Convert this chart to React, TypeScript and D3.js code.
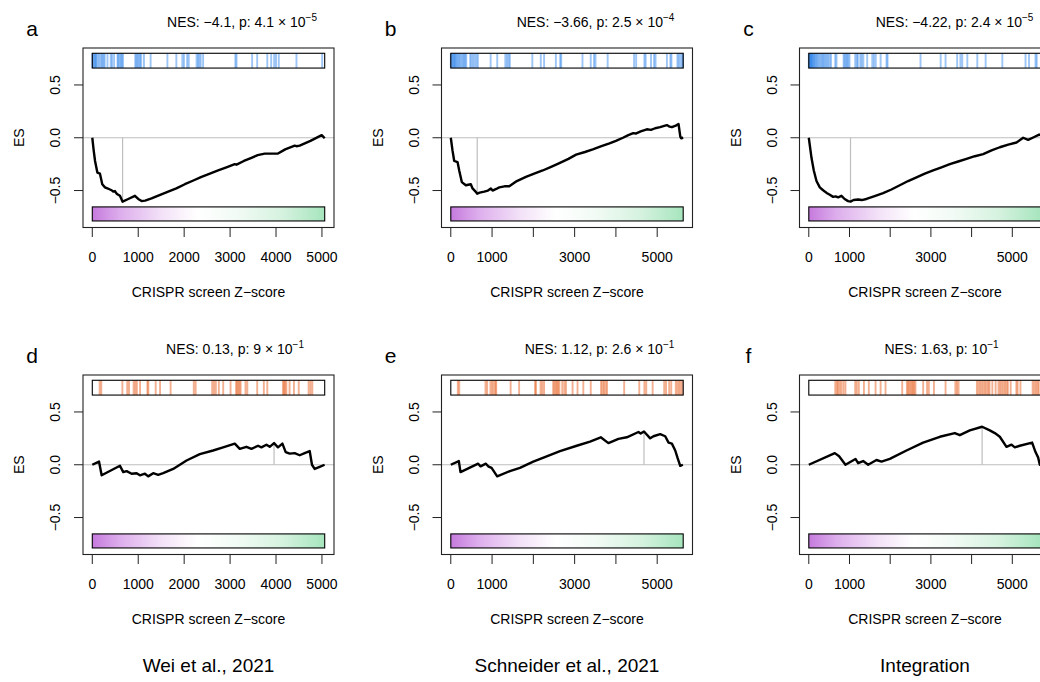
import React from 'react';
import * as d3 from 'd3';

type Pt = [number, number];

// ---- data -------------------------------------------------------------
const panelLetters = ['a', 'b', 'c', 'd', 'e', 'f'];
const nesValues = ['−4.1', '−3.66', '−4.22', '0.13', '1.12', '1.63'];
const pMantissa: (string | null)[] = ['4.1', '2.5', '2.4', '9', '2.6', null];
const pExponent = ['−5', '−4', '−5', '−1', '−1', '−1'];
const geneCounts = [5060, 5630, 5710, 5060, 5630, 5710];
const columnTitles = ['Wei et al., 2021', 'Schneider et al., 2021', 'Integration'];
const xAxisTitle = 'CRISPR screen Z−score';
const yAxisTitle = 'ES';
const yTicks = [-0.5, 0, 0.5];
const xTicksA = [0, 1000, 2000, 3000, 4000, 5000];
const xLabelsA = [0, 1000, 2000, 3000, 4000, 5000];
const xTicksB = [0, 1000, 2000, 3000, 4000, 5000];
const xLabelsB = [0, 1000, 3000, 5000];

// running enrichment score: [rank, ES]
const esA: Pt[] = [
  [0, 0], [30, -0.12], [60, -0.22], [110, -0.33], [167, -0.34], [217, -0.44], [276, -0.47],
  [330, -0.48], [385, -0.49], [430, -0.5], [457, -0.51], [493, -0.505], [530, -0.53],
  [565, -0.54], [602, -0.55], [660, -0.605], [783, -0.58], [928, -0.55], [1000, -0.58],
  [1073, -0.6], [1150, -0.595], [1290, -0.575], [1450, -0.545], [1652, -0.51], [1830, -0.48],
  [2015, -0.44], [2200, -0.405], [2378, -0.37], [2560, -0.34], [2740, -0.31], [2920, -0.28],
  [3102, -0.25], [3140, -0.255], [3300, -0.22], [3465, -0.19], [3600, -0.165], [3754, -0.15],
  [3900, -0.15], [4043, -0.15], [4200, -0.11], [4407, -0.075], [4445, -0.08], [4515, -0.075],
  [4750, -0.03], [4995, 0.025], [5060, -0.005],
];
const esB: Pt[] = [
  [0, 0], [41, -0.12], [83, -0.22], [163, -0.23], [204, -0.31], [267, -0.42], [364, -0.45],
  [485, -0.44], [527, -0.48], [600, -0.51], [640, -0.53], [700, -0.52], [810, -0.51],
  [900, -0.5], [971, -0.48], [1012, -0.5], [1100, -0.485], [1175, -0.47], [1300, -0.46],
  [1417, -0.46], [1600, -0.41], [1820, -0.37], [2020, -0.34], [2226, -0.31], [2430, -0.275],
  [2631, -0.24], [2850, -0.2], [3035, -0.16], [3250, -0.135], [3440, -0.11], [3650, -0.08],
  [3844, -0.054], [4000, -0.03], [4170, 0], [4300, 0.025], [4420, 0.044], [4480, 0.04],
  [4600, 0.06], [4750, 0.08], [4850, 0.075], [4950, 0.09], [5070, 0.1], [5150, 0.11],
  [5235, 0.12], [5300, 0.105], [5356, 0.1], [5450, 0.115], [5517, 0.13], [5560, 0.01],
  [5580, -0.005], [5630, 0],
];
const esC: Pt[] = [
  [0, 0], [66, -0.19], [123, -0.31], [189, -0.41], [270, -0.47], [330, -0.49], [393, -0.51],
  [450, -0.525], [516, -0.54], [598, -0.56], [660, -0.555], [721, -0.565], [803, -0.55],
  [880, -0.58], [966, -0.6], [1025, -0.605], [1100, -0.59], [1212, -0.585], [1300, -0.59],
  [1417, -0.58], [1600, -0.555], [1826, -0.525], [2030, -0.49], [2236, -0.45], [2440, -0.41],
  [2646, -0.375], [2850, -0.34], [3055, -0.31], [3260, -0.28], [3465, -0.25], [3670, -0.225],
  [3875, -0.2], [4080, -0.175], [4284, -0.155], [4490, -0.12], [4693, -0.09], [4900, -0.065],
  [5103, -0.045], [5266, 0], [5389, -0.02], [5500, 0], [5660, 0.03], [5710, 0.02],
];
const esD: Pt[] = [
  [0, 0], [146, 0.03], [204, -0.1], [602, -0.01], [674, -0.07], [747, -0.06], [856, -0.085],
  [965, -0.08], [1037, -0.1], [1146, -0.085], [1217, -0.11], [1326, -0.08], [1435, -0.095],
  [1543, -0.08], [1761, -0.04], [2052, 0.04], [2341, 0.1], [2630, 0.135], [2848, 0.165],
  [3102, 0.2], [3211, 0.15], [3356, 0.17], [3465, 0.15], [3609, 0.18], [3682, 0.165],
  [3791, 0.19], [3863, 0.17], [3957, 0.205], [4043, 0.165], [4139, 0.2], [4211, 0.12],
  [4298, 0.105], [4407, 0.11], [4515, 0.09], [4624, 0.11], [4733, 0.13], [4783, 0],
  [4841, -0.04], [4950, -0.02], [5058, 0],
];
const esE: Pt[] = [
  [0, 0], [194, 0.035], [235, -0.07], [663, 0.01], [721, -0.015], [850, 0.01], [906, -0.015],
  [988, -0.03], [1124, -0.11], [1432, -0.06], [1675, -0.03], [1998, 0.03], [2323, 0.08],
  [2646, 0.13], [3051, 0.18], [3374, 0.22], [3633, 0.26], [3818, 0.205], [4061, 0.245],
  [4264, 0.26], [4546, 0.31], [4600, 0.295], [4680, 0.315], [4830, 0.25], [4910, 0.27],
  [5073, 0.29], [5194, 0.27], [5275, 0.21], [5356, 0.2], [5437, 0.135], [5493, 0.065],
  [5558, -0.01], [5623, 0],
];
const esF: Pt[] = [
  [0, 0], [639, 0.11], [745, 0.08], [901, 0], [1147, 0.055], [1212, 0.015], [1335, 0.035],
  [1458, 0], [1663, 0.045], [1786, 0.03], [1991, 0.055], [2400, 0.135], [2809, 0.21],
  [3219, 0.265], [3587, 0.3], [3710, 0.28], [3956, 0.325], [4258, 0.36], [4447, 0.325],
  [4570, 0.3], [4693, 0.265], [4857, 0.17], [4980, 0.19], [5061, 0.165], [5184, 0.18],
  [5487, 0.21], [5570, 0.12], [5634, 0.07], [5676, 0], [5710, 0],
];

// ranks of gene-set members along the ordered list
const hitsA = [
  0, 20, 40, 60, 80, 95, 130, 160, 195, 220, 245, 270, 330, 400, 430, 475, 550, 565, 595, 620,
  645, 670, 935, 960, 985, 1010, 1040, 1065, 1125, 1270, 1635, 1830, 1960, 1995, 2065, 2100,
  2270, 2300, 2330, 2360, 2413, 3115, 3140, 3480, 3590, 3810, 3895, 3960, 4000, 4060, 4445, 5005,
];
const hitsB = [
  0, 20, 40, 60, 80, 100, 120, 145, 170, 200, 230, 260, 290, 320, 350, 375, 470, 500, 540, 580,
  620, 655, 965, 1125, 1320, 1360, 1400, 1430, 1975, 2180, 2260, 2545, 2650, 2675, 3190, 3390,
  3470, 3505, 3800, 4440, 4490, 4690, 4720, 4850, 4925, 4960, 5235, 5320, 5345, 5490, 5520,
  5560, 5600, 5625,
];
const hitsC = [
  0, 15, 30, 45, 60, 75, 90, 110, 130, 150, 175, 200, 230, 260, 290, 320, 350, 380, 410, 440,
  475, 510, 545, 650, 680, 855, 880, 910, 940, 970, 1000, 1140, 1180, 1205, 1265, 1300, 1340,
  1435, 1560, 1600, 1645, 1765, 1910, 1935, 2745, 3240, 3360, 3645, 3725, 3770, 3895, 4140,
  4345, 4755, 5325, 5410, 5570, 5600,
];
const hitsD = [
  160, 195, 655, 760, 800, 900, 935, 970, 1040, 1200, 1220, 1380, 1475, 1705, 2210, 2250, 2610,
  2650, 2690, 2755, 2850, 3010, 3130, 3155, 3180, 3205, 3230, 3335, 3375, 3590, 3735, 3810,
  4150, 4175, 4200, 4225, 4295, 4390, 4495, 4710, 4750, 4790,
];
const hitsE = [
  170, 205, 840, 880, 960, 1000, 1040, 1080, 1100, 1450, 1655, 2040, 2065, 2175, 2215, 2260,
  2480, 2510, 2540, 2570, 2600, 2630, 2700, 2750, 2790, 2950, 3070, 3210, 3390, 3640, 3675,
  3710, 3750, 3785, 4200, 4565, 4690, 4735, 4890, 5170, 5215, 5290, 5340, 5450, 5490, 5530,
  5570, 5610,
];
const hitsF = [
  650, 690, 720, 760, 800, 850, 900, 1140, 1180, 1230, 1355, 1475, 1640, 1765, 1885, 2295,
  2410, 2440, 2470, 2500, 2530, 2560, 2590, 2620, 2810, 2905, 2950, 3075, 3360, 3600, 3640,
  3680, 4130, 4170, 4210, 4250, 4290, 4330, 4370, 4410, 4440, 4510, 4590, 4660, 4700, 4740,
  4780, 4820, 4860, 4890, 4960, 5100, 5130, 5200, 5500, 5540, 5580, 5620, 5650,
];

const esSeries = [esA, esB, esC, esD, esE, esF];
const hitSeries = [hitsA, hitsB, hitsC, hitsD, hitsE, hitsF];

// ---- layout & style -----------------------------------------------------
const FONT = '"Liberation Sans", Arial, Helvetica, sans-serif';
const COL_LEFT = [83, 441.5, 799.5];
const ROW_TOP = [48, 375];
const BOX_W = 251;
const BOX_H = 179.5;
const TITLE_DX = [159, 154, 155, 152, 158, 142];
const HIT_COLORS = ['#0A6EE6', '#E4500C'];
const HIT_OPACITY = [0.4, 0.45];

function Panel({ idx }: { idx: number }) {
  const col = idx % 3;
  const row = Math.floor(idx / 3);
  const left = COL_LEFT[col];
  const top = ROW_TOP[row];
  const right = left + BOX_W;
  const bottom = top + BOX_H;
  const n = geneCounts[idx];
  const es = esSeries[idx];
  const hits = hitSeries[idx];

  const x = d3.scaleLinear().domain([-0.04 * n, 1.04 * n]).range([left, right]);
  const y = d3.scaleLinear().domain([-0.85, 0.85]).range([bottom, top]);
  const line = d3.line<Pt>().x((d) => x(d[0])).y((d) => y(d[1]));

  const extreme = es[d3.maxIndex(es, (d) => Math.abs(d[1]))];
  const xTicks = col === 0 ? xTicksA : xTicksB;
  const xLabels = col === 0 ? xLabelsA : xLabelsB;
  const hitColor = HIT_COLORS[row];
  const stripeTop = y(0.8);
  const stripeBot = y(0.66);
  const barTop = y(-0.655);
  const barBot = y(-0.788);
  const gradId = `rank-gradient-${idx}`;

  return (
    <g>
      <defs>
        <linearGradient id={gradId} x1="0" x2="1" y1="0" y2="0">
          <stop offset="0%" stopColor="#C57ADD" />
          <stop offset="12%" stopColor="#DDAEEC" />
          <stop offset="30%" stopColor="#F3E2F8" />
          <stop offset="45%" stopColor="#FFFFFF" />
          <stop offset="62%" stopColor="#F2FBF5" />
          <stop offset="82%" stopColor="#D5F2DF" />
          <stop offset="100%" stopColor="#A6E5BD" />
        </linearGradient>
      </defs>

      {/* panel letter and statistics */}
      <text x={left - 51} y={top - 12.5} fontSize={21} textAnchor="middle" fontFamily={FONT}>
        {panelLetters[idx]}
      </text>
      <text x={left + TITLE_DX[idx]} y={top - 21.5} fontSize={14} textAnchor="middle" fontFamily={FONT}>
        {`NES: ${nesValues[idx]}, p: `}
        {pMantissa[idx] !== null ? `${pMantissa[idx]} × 10` : '10'}
        <tspan dy={-6} fontSize={10}>{pExponent[idx]}</tspan>
      </text>

      {/* zero line and extreme marker */}
      <line x1={left} x2={right} y1={y(0)} y2={y(0)} stroke="#bebebe" strokeWidth={1.2} />
      <line x1={x(extreme[0])} x2={x(extreme[0])} y1={y(0)} y2={y(extreme[1])} stroke="#bebebe" strokeWidth={1.2} />

      {/* gene set membership stripe */}
      {hits.map((h, i) => (
        <line key={i} x1={x(h)} x2={x(h)} y1={stripeTop} y2={stripeBot}
          stroke={hitColor} strokeOpacity={HIT_OPACITY[row]} strokeWidth={1.9} />
      ))}
      <rect x={x(0)} y={stripeTop} width={x(n) - x(0)} height={stripeBot - stripeTop}
        fill="none" stroke="#000" strokeWidth={1.1} />

      {/* rank colour bar */}
      <rect x={x(0)} y={barTop} width={x(n) - x(0)} height={barBot - barTop}
        fill={`url(#${gradId})`} stroke="#000" strokeWidth={1.1} />

      {/* running enrichment score */}
      <path d={line(es) || ''} fill="none" stroke="#000" strokeWidth={2.4} strokeLinejoin="round" />

      {/* plot frame */}
      <rect x={left} y={top} width={BOX_W} height={BOX_H} fill="none" stroke="#222" strokeWidth={1.1} />

      {/* y axis */}
      {yTicks.map((t) => (
        <g key={t}>
          <line x1={left - 9} x2={left} y1={y(t)} y2={y(t)} stroke="#222" strokeWidth={1} />
          <text transform={`translate(${left - 23},${y(t)}) rotate(-90)`} fontSize={14}
            textAnchor="middle" fontFamily={FONT}>
            {t === 0 ? '0.0' : t < 0 ? `−${Math.abs(t).toFixed(1)}` : t.toFixed(1)}
          </text>
        </g>
      ))}
      <text transform={`translate(${left - 59},${(top + bottom) / 2}) rotate(-90)`} fontSize={14}
        textAnchor="middle" fontFamily={FONT}>
        {yAxisTitle}
      </text>

      {/* x axis */}
      {xTicks.map((t) => (
        <line key={t} x1={x(t)} x2={x(t)} y1={bottom} y2={bottom + 9.5} stroke="#222" strokeWidth={1} />
      ))}
      {xLabels.map((t) => (
        <text key={t} x={x(t)} y={bottom + 34} fontSize={14} textAnchor="middle" fontFamily={FONT}>
          {t}
        </text>
      ))}
      <text x={(left + right) / 2} y={bottom + 69} fontSize={14} textAnchor="middle" fontFamily={FONT}>
        {xAxisTitle}
      </text>
    </g>
  );
}

export default function App() {
  return (
    <svg width={1040} height={682} viewBox="0 0 1040 682"
      style={{ position: 'absolute', left: 0, top: 0, background: '#fff' }}>
      <rect x={0} y={0} width={1040} height={682} fill="#fff" />
      {panelLetters.map((_, i) => (
        <Panel key={i} idx={i} />
      ))}
      {columnTitles.map((t, c) => (
        <text key={t} x={COL_LEFT[c] + BOX_W / 2} y={672} fontSize={19} textAnchor="middle" fontFamily={FONT}>
          {t}
        </text>
      ))}
    </svg>
  );
}
